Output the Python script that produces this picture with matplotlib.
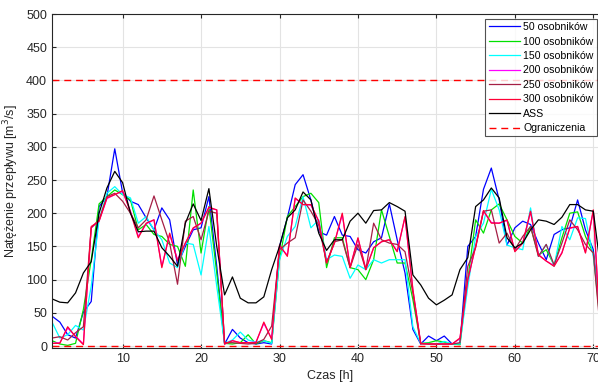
import matplotlib
matplotlib.use("Agg")
import matplotlib.pyplot as plt

plt.rcParams['font.family'] = ['Liberation Sans', 'DejaVu Sans']

hours = list(range(1, 73))

s50 = [45, 36, 17, 12, 51, 67, 210, 225, 297, 231, 218, 213, 193, 175, 208, 190, 122, 150, 175, 178,
       225, 120, 3, 25, 12, 5, 3, 5, 3, 150, 193, 243, 258, 220, 172, 167, 195, 167, 165, 145,
       140, 157, 163, 214, 160, 110, 25, 3, 15, 8, 15, 3, 3, 150, 165, 236, 268, 220, 152, 178,
       188, 183, 155, 130, 168, 175, 178, 220, 175, 145, 30, 5]
s100 = [8, 3, 1, 4, 55, 130, 214, 225, 235, 228, 220, 175, 183, 168, 165, 153, 150, 120, 235, 140,
        210, 110, 4, 3, 5, 17, 3, 8, 5, 130, 195, 210, 225, 230, 216, 118, 163, 163, 118, 115,
        100, 130, 205, 165, 125, 125, 70, 4, 5, 8, 6, 3, 2, 100, 190, 170, 205, 214, 190, 165,
        155, 180, 137, 145, 122, 163, 200, 202, 165, 140, 20, 5]
s150 = [36, 12, 17, 31, 24, 90, 190, 230, 240, 228, 223, 185, 195, 175, 160, 125, 118, 155, 153, 107,
        180, 90, 4, 9, 21, 9, 6, 8, 4, 130, 165, 180, 225, 178, 190, 130, 137, 135, 102, 122,
        115, 130, 125, 130, 130, 130, 29, 4, 4, 3, 7, 3, 3, 89, 165, 185, 236, 205, 152, 148,
        145, 208, 135, 153, 120, 180, 160, 193, 192, 135, 40, 5]
s200 = [4, 5, 27, 15, 3, 178, 188, 222, 228, 233, 203, 165, 184, 190, 120, 168, 130, 155, 177, 185,
        208, 205, 3, 8, 5, 5, 6, 34, 11, 150, 137, 222, 213, 212, 188, 126, 155, 198, 119, 162,
        116, 148, 157, 160, 143, 194, 85, 4, 3, 3, 3, 3, 11, 100, 150, 203, 186, 185, 189, 143,
        155, 202, 138, 128, 121, 141, 177, 180, 141, 204, 1, 0]
s250 = [12, 14, 9, 20, 29, 178, 190, 225, 230, 218, 200, 178, 190, 226, 190, 155, 93, 188, 195, 160,
        203, 200, 5, 5, 4, 3, 4, 10, 30, 145, 155, 163, 220, 203, 182, 125, 157, 160, 118, 153,
        115, 185, 160, 155, 153, 142, 80, 3, 3, 3, 3, 3, 5, 120, 148, 203, 205, 155, 170, 145,
        165, 180, 135, 153, 122, 155, 190, 175, 153, 140, 10, 3]
s300 = [4, 4, 29, 14, 2, 180, 188, 223, 228, 234, 202, 163, 185, 190, 118, 170, 128, 155, 178, 185,
        209, 205, 3, 8, 5, 5, 5, 36, 10, 152, 135, 223, 213, 213, 188, 125, 155, 200, 118, 163,
        115, 148, 157, 160, 142, 195, 85, 4, 3, 3, 3, 3, 12, 100, 150, 204, 185, 185, 190, 142,
        155, 203, 137, 128, 120, 140, 178, 180, 140, 205, 0, 0]
ass = [71, 66, 65, 80, 110, 127, 200, 238, 263, 246, 200, 172, 173, 173, 148, 135, 120, 185, 214, 189,
       237, 150, 77, 104, 72, 65, 65, 74, 115, 150, 193, 205, 232, 220, 170, 144, 160, 160, 188, 200,
       185, 204, 205, 216, 210, 203, 107, 92, 72, 62, 69, 77, 115, 133, 210, 220, 238, 223, 163, 148,
       155, 175, 190, 188, 183, 194, 213, 213, 205, 203, 110, 80]
limit_values = [0, 400]

series = [
    ("50 osobników", s50, "#0000ff"),
    ("100 osobników", s100, "#00e000"),
    ("150 osobników", s150, "#00ffff"),
    ("200 osobników", s200, "#ff00ff"),
    ("250 osobników", s250, "#a51f45"),
    ("300 osobników", s300, "#ff0035"),
    ("ASS", ass, "#000000"),
]

fig = plt.figure(figsize=(5.98, 3.86), dpi=100)
ax = fig.add_axes([52 / 598, 38 / 386, 557 / 598, 334 / 386])

for label, vals, col in series:
    ax.plot(hours, vals, color=col, lw=0.9, label=label)

for i, v in enumerate(limit_values):
    ax.axhline(v, color="#ff0000", ls=(0, (5, 3.5)), lw=1.0,
               label="Ograniczenia" if i == 0 else None)

ax.set_xlim(1, 72)
ax.set_ylim(-3, 500)
ax.set_xticks(range(10, 80, 10))
ax.set_yticks(range(0, 501, 50))
ax.grid(True, color="#e3e3e3", lw=0.8)
ax.set_axisbelow(True)
ax.tick_params(direction="in", top=True, right=True, labelsize=9, colors="#262626",
               length=3, width=0.8)
for sp in ax.spines.values():
    sp.set_color("#262626")
    sp.set_linewidth(0.8)

ax.set_xlabel("Czas [h]", fontsize=9, color="#262626", labelpad=4)
ax.set_ylabel("Natężenie przepływu [m$^3$/s]", fontsize=9, color="#262626", labelpad=4)

leg = fig.legend(loc="upper right", bbox_to_anchor=(597 / 598, 1 - 19 / 386),
                 fontsize=7.6, frameon=True, fancybox=False, edgecolor="#262626",
                 handlelength=3.0, handletextpad=0.3, borderpad=0.3, labelspacing=0.42,
                 borderaxespad=0)
leg.get_frame().set_linewidth(0.8)

fig.savefig("out.png", dpi=100)
